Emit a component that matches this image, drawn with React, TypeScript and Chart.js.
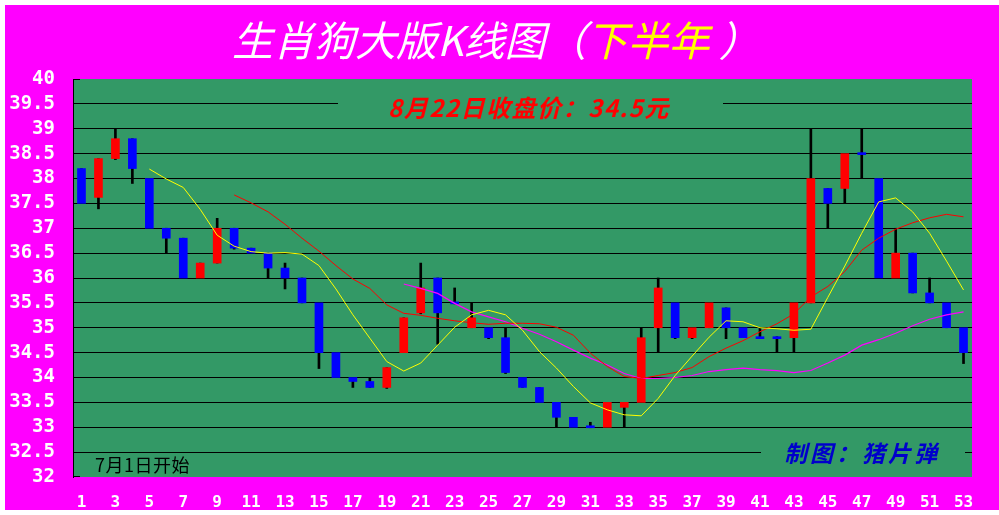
import React, { useEffect, useRef } from "react";
import { Chart, registerables } from "chart.js";

Chart.register(...registerables);

// ---- data ----
const days = [
  "1", "2", "3", "4", "5", "6", "7", "8", "9", "10",
  "11", "12", "13", "14", "15", "16", "17", "18", "19", "20",
  "21", "22", "23", "24", "25", "26", "27", "28", "29", "30",
  "31", "32", "33", "34", "35", "36", "37", "38", "39", "40",
  "41", "42", "43", "44", "45", "46", "47", "48", "49", "50",
  "51", "52", "53",
];

const openP = [
  38.2, 37.62, 38.4, 38.8, 38.0, 37.0, 36.8, 36.0, 36.3, 37.0,
  36.6, 36.5, 36.2, 36.0, 35.5, 34.5, 34.0, 33.92, 33.8, 34.5,
  35.3, 36.0, 35.52, 35.0, 35.0, 34.8, 34.0, 33.8, 33.5, 33.2,
  33.03, 33.0, 33.4, 33.5, 35.0, 35.5, 34.8, 35.0, 35.4, 35.0,
  34.82, 34.82, 34.8, 35.5, 37.8, 37.8, 38.52, 38.0, 36.0, 36.5,
  35.7, 35.5, 35.0,
];

const closeP = [
  37.5, 38.4, 38.8, 38.2, 37.0, 36.8, 36.0, 36.3, 37.0, 36.6,
  36.5, 36.2, 36.0, 35.5, 34.5, 34.0, 33.92, 33.8, 34.2, 35.2,
  35.8, 35.3, 35.48, 35.2, 34.8, 34.1, 33.8, 33.5, 33.2, 33.0,
  32.99, 33.5, 33.5, 34.8, 35.8, 34.8, 35.0, 35.5, 35.0, 34.8,
  34.78, 34.78, 35.5, 38.0, 37.5, 38.5, 38.48, 36.0, 36.5, 35.7,
  35.5, 35.0, 34.5,
];

const highP = [
  38.2, 38.4, 39.0, 38.8, 38.0, 37.0, 36.8, 36.3, 37.2, 37.0,
  36.6, 36.5, 36.3, 36.0, 35.5, 34.5, 34.0, 34.0, 34.2, 35.2,
  36.3, 36.0, 35.8, 35.5, 35.0, 35.0, 34.0, 33.8, 33.5, 33.2,
  33.1, 33.5, 33.5, 35.0, 36.0, 35.5, 35.0, 35.5, 35.4, 35.0,
  35.0, 34.82, 35.5, 39.0, 37.8, 38.5, 39.0, 38.0, 37.0, 36.5,
  36.0, 35.5, 35.0,
];

const lowP = [
  37.5, 37.39, 38.38, 37.9, 37.0, 36.5, 36.0, 36.0, 36.3, 36.58,
  36.5, 36.0, 35.78, 35.5, 34.18, 34.0, 33.8, 33.8, 33.78, 34.5,
  35.28, 34.67, 35.48, 35.0, 34.78, 34.08, 33.8, 33.5, 33.0, 33.0,
  32.99, 33.0, 33.0, 33.5, 34.5, 34.78, 34.78, 35.0, 34.78, 34.8,
  34.78, 34.5, 34.5, 35.5, 37.0, 37.5, 38.0, 36.0, 36.0, 35.7,
  35.5, 35.0, 34.28,
];

// 5-day moving average (yellow)
const ma5 = [
  null, null, null, null, 38.19, 37.99, 37.82, 37.38, 36.86, 36.64,
  36.53, 36.5, 36.51, 36.48, 36.25, 35.78, 35.26, 34.79, 34.32, 34.13,
  34.29, 34.65, 35.01, 35.26, 35.35, 35.26, 34.95, 34.52, 34.19, 33.82,
  33.49, 33.35, 33.25, 33.23, 33.58, 34.04, 34.43, 34.81, 35.14, 35.12,
  35.0, 34.98, 34.95, 34.97, 35.61, 36.24, 36.9, 37.53, 37.61, 37.33,
  36.9, 36.34, 35.76,
];

// 10-day moving average (red)
const ma10 = [
  null, null, null, null, null, null, null, null, null, 37.67,
  37.51, 37.33, 37.08, 36.8, 36.54, 36.25, 35.98, 35.79, 35.46, 35.29,
  35.25, 35.19, 35.14, 35.1, 35.07, 35.09, 35.09, 35.08, 35.01, 34.85,
  34.49, 34.22, 34.02, 33.98, 34.04, 34.1, 34.2, 34.42, 34.59, 34.74,
  34.92, 35.08, 35.28, 35.62, 35.83, 36.13, 36.56, 36.8, 36.98, 37.11,
  37.21, 37.28, 37.23,
];

// 20-day moving average (magenta)
const ma20 = [
  null, null, null, null, null, null, null, null, null, null,
  null, null, null, null, null, null, null, null, null, 35.88,
  35.79, 35.69, 35.49, 35.32, 35.22, 35.12, 34.99, 34.87, 34.72, 34.55,
  34.39, 34.25, 34.08, 33.98, 33.98, 34.0, 34.04, 34.12, 34.16, 34.19,
  34.16, 34.14, 34.1, 34.14, 34.29, 34.45, 34.65, 34.76, 34.89, 35.04,
  35.17, 35.26, 35.32,
];

const yMin = 32;
const yMax = 40;
const yStep = 0.5;

const titleMain = "生肖狗大版K线图（";
const titleYellow = "下半年";
const titleEnd = " ）";
const noteText = "8月22日收盘价：34.5元";
const startText = "7月1日开始";
const creditText = "制图：猪片弹";

const GREEN = "#339966";
const MAGENTA = "#ff00ff";

export default function App() {
  const ref = useRef<HTMLCanvasElement>(null);

  useEffect(() => {
    const canvas = ref.current;
    if (!canvas) return;

    const bodyColors = openP.map((o, i) => (closeP[i] >= o ? "#ff0000" : "#0000ff"));

    const plotBg = {
      id: "plotBg",
      beforeDraw(chart: any) {
        const { ctx, chartArea: a } = chart;
        ctx.save();
        ctx.fillStyle = GREEN;
        ctx.fillRect(a.left, a.top, a.right - a.left, a.bottom - a.top);
        ctx.restore();
      },
      afterDraw(chart: any) {
        const { ctx, chartArea: a } = chart;
        ctx.save();
        ctx.strokeStyle = "#000";
        ctx.lineWidth = 1;
        ctx.beginPath();
        ctx.moveTo(a.left, a.top + 0.5);
        ctx.lineTo(a.left + 7, a.top + 0.5);
        ctx.moveTo(a.left, a.bottom - 0.5);
        ctx.lineTo(a.left + 7, a.bottom - 0.5);
        ctx.stroke();
        ctx.restore();
      },
    };

    const chart = new Chart(canvas, {
      type: "bar",
      data: {
        labels: days,
        datasets: [
          {
            type: "line",
            data: ma5,
            borderColor: "#ffff00",
            borderWidth: 1,
            pointRadius: 0,
            tension: 0,
            order: 0,
          } as any,
          {
            type: "line",
            data: ma10,
            borderColor: "#ff0000",
            borderWidth: 1,
            pointRadius: 0,
            tension: 0,
            order: 0,
          } as any,
          {
            type: "line",
            data: ma20,
            borderColor: MAGENTA,
            borderWidth: 1.2,
            pointRadius: 0,
            tension: 0,
            order: 0,
          } as any,
          {
            type: "bar",
            data: openP.map((o, i) => [o, closeP[i]]),
            backgroundColor: bodyColors,
            borderWidth: 0,
            barThickness: 8,
            grouped: false,
            order: 1,
          } as any,
          {
            type: "bar",
            data: lowP.map((l, i) => [l, highP[i]]),
            backgroundColor: "#000000",
            borderWidth: 0,
            barThickness: 2,
            grouped: false,
            order: 2,
          } as any,
        ],
      },
      options: {
        responsive: false,
        animation: false,
        devicePixelRatio: 1,
        layout: { padding: { top: 79, right: 27, left: 0, bottom: 0 } },
        plugins: {
          legend: { display: false },
          tooltip: { enabled: false },
          title: { display: false },
        },
        scales: {
          x: {
            type: "category",
            offset: true,
            grid: { display: false },
            border: { display: false },
            ticks: {
              color: "#ffffff",
              font: { family: "'DejaVu Sans Mono'", size: 16, weight: "bold" },
              autoSkip: false,
              maxRotation: 0,
              padding: 8,
              callback: (_v: any, i: number) => (i % 2 === 0 ? days[i] : ""),
            },
            afterFit: (s: any) => {
              s.height = 38;
            },
          },
          y: {
            min: yMin,
            max: yMax,
            grid: {
              color: (c: any) =>
                c.tick && (c.tick.value === yMin || c.tick.value === yMax) ? "rgba(0,0,0,0)" : "#000000",
              lineWidth: 1,
              drawTicks: false,
            },
            border: { color: "#000000", width: 1 },
            ticks: {
              stepSize: yStep,
              autoSkip: false,
              color: "#ffffff",
              font: { family: "'DejaVu Sans Mono'", size: 19, weight: "bold", lineHeight: 1 },
              padding: 18,
              callback: (v: any) => String(Math.round(Number(v) * 10) / 10),
            },
            afterFit: (s: any) => {
              s.width = 73;
            },
          },
        },
      },
      plugins: [plotBg],
    } as any);

    return () => chart.destroy();
  }, []);

  return (
    <div
      style={{
        position: "fixed",
        left: 0,
        top: 0,
        width: 999,
        height: 515,
        background: "#ffffff",
        overflow: "hidden",
      }}
    >
      <div
        style={{
          position: "absolute",
          left: 5,
          top: 5,
          right: 0,
          bottom: 5,
          background: MAGENTA,
        }}
      />
      <canvas
        ref={ref}
        width={999}
        height={515}
        style={{ position: "absolute", left: 0, top: 0 }}
      />
      <div
        style={{
          position: "absolute",
          left: 232,
          top: 18,
          fontFamily: "'Noto Sans CJK SC', sans-serif",
          fontSize: 41,
          fontStyle: "italic",
          lineHeight: 1,
          whiteSpace: "nowrap",
          color: "#ffffff",
        }}
      >
        {titleMain}
        <span style={{ color: "#ffff00" }}>{titleYellow}</span>
        {titleEnd}
      </div>
      <div
        style={{
          position: "absolute",
          left: 338,
          top: 92,
          width: 385,
          height: 32,
          background: GREEN,
        }}
      >
        <div
          style={{
            position: "absolute",
            left: 50,
            top: 3,
            fontFamily: "'Noto Sans CJK SC', sans-serif",
            fontSize: 24,
            fontWeight: "bold",
            fontStyle: "italic",
            lineHeight: 1,
            letterSpacing: 1.5,
            whiteSpace: "nowrap",
            color: "#ff0000",
          }}
        >
          {noteText}
        </div>
      </div>
      <div
        style={{
          position: "absolute",
          left: 95,
          top: 455,
          fontFamily: "'Noto Sans CJK SC', sans-serif",
          fontSize: 18,
          lineHeight: 1,
          letterSpacing: 0.5,
          whiteSpace: "nowrap",
          color: "#000000",
        }}
      >
        {startText}
      </div>
      <div
        style={{
          position: "absolute",
          left: 761,
          top: 438,
          width: 204,
          height: 36,
          background: GREEN,
        }}
      >
        <div
          style={{
            position: "absolute",
            left: 23,
            top: 3,
            fontFamily: "'Noto Sans CJK SC', sans-serif",
            fontSize: 23,
            fontWeight: "bold",
            fontStyle: "italic",
            lineHeight: 1,
            letterSpacing: 3,
            whiteSpace: "nowrap",
            color: "#0000cc",
          }}
        >
          {creditText}
        </div>
      </div>
    </div>
  );
}
